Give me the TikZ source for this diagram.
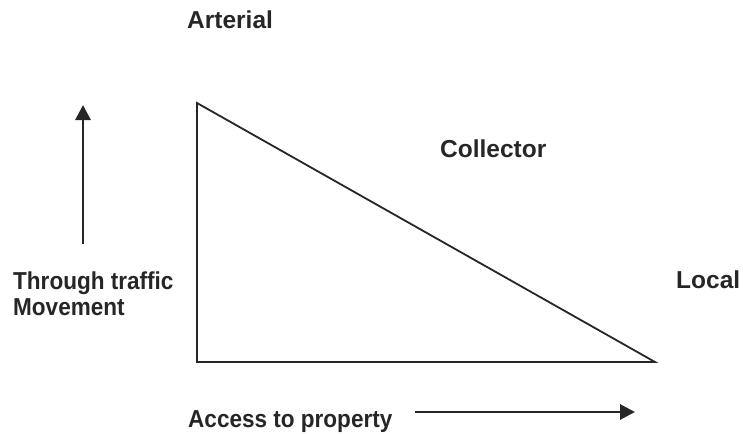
\documentclass[tikz,border=0pt]{standalone}
\usepackage{fontspec}
\setmainfont{Liberation Sans}
\newfontfamily\axisfont[FakeStretch=0.92]{Liberation Sans Bold}
\usetikzlibrary{arrows.meta}
\definecolor{ink}{HTML}{262626}
\tikzset{
  cat/.style={anchor=base west, inner sep=0pt, text=ink, font=\fontsize{24.5}{26}\selectfont\bfseries},
  axislabel/.style={anchor=base west, inner sep=0pt, text=ink, align=left, font=\fontsize{24.5}{26.3}\selectfont\axisfont},
  edge/.style={draw=ink, line width=1.8pt, line join=miter},
  axisarrow/.style={draw=ink, line width=2.8pt, -{Triangle[length=15pt,width=15pt]}}
}
\begin{document}
\begin{tikzpicture}[x=1pt,y=-1pt]
\useasboundingbox (0,0) rectangle (743,433);
% triangle
\coordinate (top) at (197,103);
\coordinate (bl) at (197,362);
\coordinate (br) at (655,362);
\draw[edge] (top) -- (br) -- (bl) -- cycle;
% labels
\node[cat] (arterial) at (187,28.5) {Arterial};
\node[cat] (collector) at (440,157.5) {Collector};
\node[cat] (local) at (676,288.5) {Local};
\node[axislabel] (through) at (13,315.3) {Through traffic\\Movement};
\node[axislabel] (access) at (188,427) {Access to property};
% axis arrows
\coordinate (vstart) at (83,244);
\coordinate (vend) at (83,105);
\coordinate (hstart) at (415,412);
\coordinate (hend) at (635,412);
\draw[axisarrow] (vstart) -- (vend);
\draw[axisarrow] (hstart) -- (hend);
\end{tikzpicture}
\end{document}
